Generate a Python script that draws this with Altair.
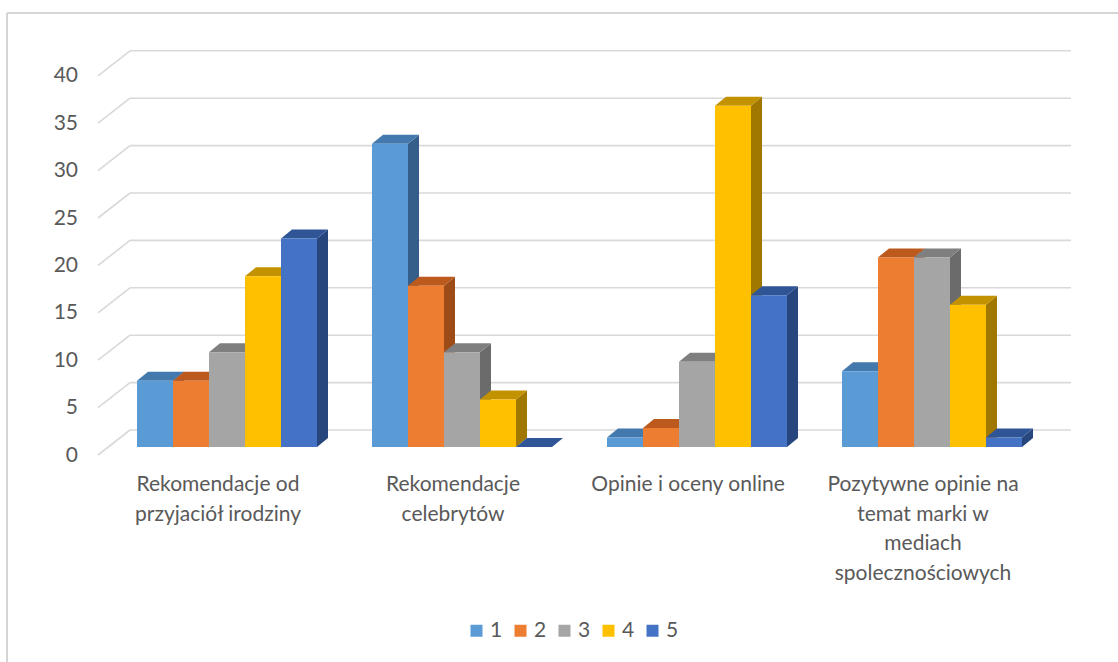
import altair as alt
import pandas as pd

# ---------------- data ----------------
categories = [
    "Rekomendacje od\nprzyjaciół irodziny",
    "Rekomendacje\ncelebrytów",
    "Opinie i oceny online",
    "Pozytywne opinie na\ntemat marki w\nmediach\nspolecznościowych",
]
series = ["1", "2", "3", "4", "5"]
values_1 = [7, 32, 1, 8]
values_2 = [7, 17, 2, 20]
values_3 = [10, 10, 9, 20]
values_4 = [18, 5, 36, 15]
values_5 = [22, 0, 16, 1]
y_ticks = [0, 5, 10, 15, 20, 25, 30, 35, 40]

# ---------------- styles ----------------
front_colors = ["#5B9BD5", "#ED7D31", "#A5A5A5", "#FFC000", "#4472C4"]
top_colors = ["#4379AD", "#BC5A1D", "#7F7F7F", "#C29200", "#2F5597"]
side_colors = ["#355F8A", "#9E4C17", "#6B6B6B", "#A07800", "#27467D"]
TEXT = "#595959"
GRID = "#D9D9D9"
FONT = "Lato"

# ---------------- geometry ----------------
W, H = 1111, 649
GROUP_PX = 235.0
UNIT_PX = 9.48
X0_PX = 220.0
BASE_PX = 434.0
BW = 36 / GROUP_PX            # bar width (group units)
DX = 11 / GROUP_PX            # depth offset x
DY = 9 / UNIT_PX              # depth offset y
WALL_DY = 17 / UNIT_PX        # back wall shift
WALL_X0 = (123 - X0_PX) / GROUP_PX
WALL_X1 = (1064 - X0_PX) / GROUP_PX
DIAG_X0 = (91 - X0_PX) / GROUP_PX
DIAG_DY0 = -8 / UNIT_PX
TICK_X = (71 - X0_PX) / GROUP_PX

xs = alt.Scale(domain=[-X0_PX / GROUP_PX, (W - X0_PX) / GROUP_PX], nice=False, zero=False)
ys = alt.Scale(domain=[(BASE_PX - H) / UNIT_PX, BASE_PX / UNIT_PX], nice=False, zero=False)

all_vals = [values_1, values_2, values_3, values_4, values_5]

front_rows, top_rows, side_rows = [], [], []
for i, cat in enumerate(categories):
    for j, s in enumerate(series):
        v = all_vals[j][i]
        x0 = i + (j - 2.5) * BW
        bid = f"{i}-{j}"
        front_rows.append(dict(bar=bid, series=s, x=x0, x2=x0 + BW, y=0, y2=v))
        top_rows.append(dict(bar=bid, y=v, xa=x0, xb=x0 + BW, c=top_colors[j]))
        top_rows.append(dict(bar=bid, y=v + DY, xa=x0 + DX, xb=x0 + BW + DX, c=top_colors[j]))
        side_rows.append(dict(bar=bid, x=x0 + BW, ya=0, yb=v, c=side_colors[j]))
        side_rows.append(dict(bar=bid, x=x0 + BW + DX, ya=DY, yb=v + DY, c=side_colors[j]))

front_df = pd.DataFrame(front_rows)
top_df = pd.DataFrame(top_rows)
side_df = pd.DataFrame(side_rows)

grid_df = pd.DataFrame({
    "v": y_ticks,
    "gy": [t + WALL_DY for t in y_ticks],
    "dy0": [t + DIAG_DY0 for t in y_ticks],
    "ty": [t - 0.9 for t in y_ticks],
    "label": [str(t) for t in y_ticks],
    "wx0": [WALL_X0] * len(y_ticks),
    "wx1": [WALL_X1] * len(y_ticks),
    "dx0": [DIAG_X0] * len(y_ticks),
    "tx": [TICK_X] * len(y_ticks),
})

cat_df = pd.DataFrame({
    "label": categories,
    "x": [i - 9 / GROUP_PX for i in range(len(categories))],
    "y": [-2.85] * len(categories),
})

noax = dict(axis=None)

back_grid = alt.Chart(grid_df).mark_rule(color=GRID, strokeWidth=1.6).encode(
    x=alt.X("wx0:Q", scale=xs, **noax), x2="wx1:Q",
    y=alt.Y("gy:Q", scale=ys, **noax),
)
diag = alt.Chart(grid_df).mark_rule(color=GRID, strokeWidth=1.6).encode(
    x=alt.X("dx0:Q", scale=xs, **noax), x2="wx0:Q",
    y=alt.Y("dy0:Q", scale=ys, **noax), y2="gy:Q",
)
tick_text = alt.Chart(grid_df).mark_text(
    align="right", baseline="middle", font=FONT, fontSize=21, color=TEXT
).encode(
    x=alt.X("tx:Q", scale=xs, **noax),
    y=alt.Y("ty:Q", scale=ys, **noax),
    text="label:N",
)

sides = alt.Chart(side_df).mark_area(orient="vertical", interpolate="linear", opacity=1).encode(
    x=alt.X("x:Q", scale=xs, **noax),
    y=alt.Y("ya:Q", scale=ys, stack=None, **noax), y2="yb:Q",
    detail="bar:N",
    fill=alt.Fill("c:N", scale=None),
)
tops = alt.Chart(top_df).mark_area(orient="horizontal", interpolate="linear", opacity=1).encode(
    y=alt.Y("y:Q", scale=ys, **noax),
    x=alt.X("xa:Q", scale=xs, stack=None, **noax), x2="xb:Q",
    detail="bar:N",
    fill=alt.Fill("c:N", scale=None),
)
fronts = alt.Chart(front_df).mark_rect().encode(
    x=alt.X("x:Q", scale=xs, **noax), x2="x2:Q",
    y=alt.Y("y:Q", scale=ys, **noax), y2="y2:Q",
    color=alt.Color(
        "series:N",
        scale=alt.Scale(domain=series, range=front_colors),
        legend=alt.Legend(
            title=None, orient="none", direction="horizontal",
            legendX=459, legendY=607,
            symbolType="square", symbolSize=144, symbolStrokeWidth=0,
            symbolOpacity=1,
            labelFont=FONT, labelFontSize=21, labelColor=TEXT,
            labelOffset=3, columnPadding=7,
        ),
    ),
)
cat_text = alt.Chart(cat_df).mark_text(
    align="center", baseline="top", font=FONT, fontSize=21, color=TEXT,
    lineBreak="\n", lineHeight=29.5,
).encode(
    x=alt.X("x:Q", scale=xs, **noax),
    y=alt.Y("y:Q", scale=ys, **noax),
    text="label:N",
)

frame_top = alt.Chart(grid_df).mark_rule(color="#D4D4D4", strokeWidth=1.5).encode(
    x=alt.value(0), x2=alt.value(W), y=alt.value(0)
)
frame_left = alt.Chart(grid_df).mark_rule(color="#D4D4D4", strokeWidth=1.5).encode(
    x=alt.value(0), y=alt.value(0), y2=alt.value(H)
)

chart = alt.layer(
    frame_top, frame_left, back_grid, diag, tick_text, sides, tops, fronts, cat_text
).resolve_scale(
    color="independent", fill="independent"
).properties(
    width=W, height=H,
    autosize=alt.AutoSizeParams(type="none"),
    padding={"left": 7, "top": 13, "right": 0, "bottom": 0},
    background="white",
).configure_view(stroke=None)

chart.save("out.html", embed_options={"renderer": "svg", "actions": False})
